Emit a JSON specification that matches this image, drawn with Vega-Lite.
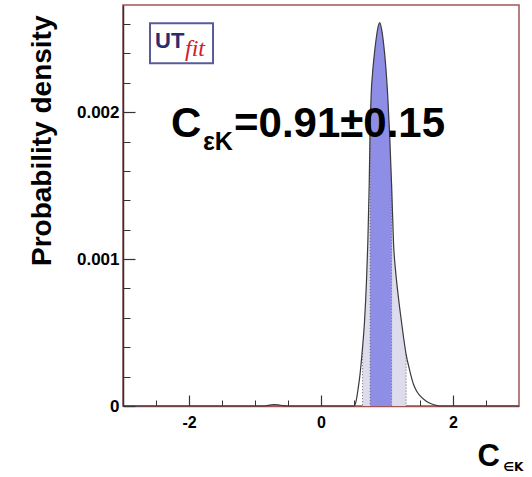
{
  "$schema": "https://vega.github.io/schema/vega-lite/v6.json",
  "width": 396,
  "height": 401,
  "autosize": {"type": "none"},
  "padding": {"left": 123, "top": 5, "right": 13, "bottom": 71},
  "background": "white",
  "config": {"view": {"stroke": "#a05555", "strokeWidth": 1.5}, "font": "Liberation Sans"},
  "datasets": {
    "pdf": [
      {"x": -3.0, "y": 0}, {"x": -0.85, "y": 0}, {"x": -0.8, "y": 0.000004}, {"x": -0.72, "y": 0.000009},
      {"x": -0.65, "y": 0.000008}, {"x": -0.58, "y": 0.000003}, {"x": -0.52, "y": 0}, {"x": 0.5, "y": 0},
      {"x": 0.53, "y": 0.00003}, {"x": 0.56, "y": 0.00011}, {"x": 0.59, "y": 0.00021}, {"x": 0.61, "y": 0.0003},
      {"x": 0.63, "y": 0.0004}, {"x": 0.66, "y": 0.00058}, {"x": 0.69, "y": 0.00086}, {"x": 0.71, "y": 0.00112},
      {"x": 0.73, "y": 0.0015}, {"x": 0.745, "y": 0.0019}, {"x": 0.76, "y": 0.00212}, {"x": 0.78, "y": 0.00226},
      {"x": 0.8, "y": 0.00236}, {"x": 0.83, "y": 0.00248}, {"x": 0.86, "y": 0.00257}, {"x": 0.89, "y": 0.00261},
      {"x": 0.92, "y": 0.00256}, {"x": 0.95, "y": 0.00246}, {"x": 0.98, "y": 0.00232}, {"x": 1.01, "y": 0.00212},
      {"x": 1.04, "y": 0.00185}, {"x": 1.07, "y": 0.0015}, {"x": 1.1, "y": 0.0011}, {"x": 1.13, "y": 0.00092},
      {"x": 1.16, "y": 0.00079}, {"x": 1.2, "y": 0.00064}, {"x": 1.25, "y": 0.00047}, {"x": 1.29, "y": 0.00035},
      {"x": 1.34, "y": 0.00025}, {"x": 1.4, "y": 0.00015}, {"x": 1.45, "y": 0.0001}, {"x": 1.5, "y": 0.00007},
      {"x": 1.6, "y": 0.00003}, {"x": 1.7, "y": 0.00001}, {"x": 1.8, "y": 0}, {"x": 3.0, "y": 0}
    ],
    "edges": [{"x": 0.63, "y": 0.0004}, {"x": 0.745, "y": 0.0019}, {"x": 1.07, "y": 0.0015}, {"x": 1.29, "y": 0.00035}],
    "cmain": [{"x": -2.273, "y": 0.00183, "t": "C"}],
    "csub": [{"x": -1.788, "y": 0.001741, "t": "εK"}],
    "cval": [{"x": -1.318, "y": 0.00183, "t": "=0.91±0.15"}],
    "logo": [{"x": -2.591, "x2": -1.636, "y": 0.002605, "y2": 0.002333}],
    "ut": [{"x": -2.515, "y": 0.002435, "t": "UT"}],
    "fit": [{"x": -2.061, "y": 0.002381, "t": "fit"}],
    "xsub": [{"x": 2.76, "y": -0.000442, "t": "∈K"}]
  },
  "layer": [
    {
      "data": {"name": "pdf"},
      "transform": [{"filter": "datum.x >= 0.63 && datum.x <= 1.29"}],
      "mark": {"type": "area", "interpolate": "monotone", "color": "#dcdcec"},
      "encoding": {
        "x": {"field": "x", "type": "quantitative", "scale": {"domain": [-3, 3], "nice": false, "zero": false},
          "axis": {"orient": "bottom", "values": [-2.5, -1.5, -1, -0.5, 0.5, 1, 1.5, 2.5], "tickSize": -6, "tickColor": "#333", "labels": false, "domain": false, "title": null, "grid": false}},
        "y": {"field": "y", "type": "quantitative", "scale": {"domain": [0, 0.00273], "nice": false},
          "axis": {"orient": "left", "values": [0.0002, 0.0004, 0.0006, 0.0008, 0.0012, 0.0014, 0.0016, 0.0018, 0.0022, 0.0024, 0.0026], "tickSize": -7, "tickColor": "#333", "labels": false, "domain": false, "title": null, "grid": false}}
      }
    },
    {
      "data": {"name": "pdf"},
      "transform": [{"filter": "datum.x >= 0.745 && datum.x <= 1.07"}],
      "mark": {"type": "area", "interpolate": "monotone", "color": "#8e8ee6"},
      "encoding": {
        "x": {"field": "x", "type": "quantitative", "axis": null},
        "y": {"field": "y", "type": "quantitative", "axis": null}
      }
    },
    {
      "data": {"name": "edges"},
      "mark": {"type": "rule", "color": "#666", "strokeDash": [1, 2], "strokeWidth": 1},
      "encoding": {
        "x": {"field": "x", "type": "quantitative", "axis": null},
        "y": {"field": "y", "type": "quantitative", "axis": null},
        "y2": {"datum": 0}
      }
    },
    {
      "data": {"name": "pdf"},
      "mark": {"type": "line", "interpolate": "monotone", "color": "#3a3a3a", "strokeWidth": 1.2},
      "encoding": {
        "x": {"field": "x", "type": "quantitative",
          "axis": {"orient": "bottom", "values": [-2, 0, 2], "tickSize": -11, "tickColor": "#333", "tickWidth": 1.2, "domainColor": "#a05555", "domainWidth": 1.5, "labelFont": "Liberation Sans", "labelFontSize": 16, "labelFontWeight": "bold", "labelColor": "black", "labelPadding": 19, "labelExpr": "'' + datum.value", "labelFlush": false, "labelOverlap": false, "grid": false,
            "title": "C", "titleFont": "Liberation Sans", "titleFontSize": 31, "titleFontWeight": "bold", "titleColor": "black", "titleX": 354, "titleY": 59, "titleAlign": "left", "titleBaseline": "alphabetic", "titleAnchor": "start"}},
        "y": {"field": "y", "type": "quantitative",
          "axis": {"orient": "left", "values": [0, 0.001, 0.002], "tickSize": -12, "tickColor": "#333", "tickWidth": 1.2, "domainColor": "#333", "domainWidth": 1.5, "labelFont": "Liberation Sans", "labelFontSize": 17, "labelFontWeight": "bold", "labelColor": "black", "labelPadding": 16, "labelExpr": "'' + datum.value", "labelFlush": false, "labelOverlap": false, "grid": false,
            "title": "Probability density", "titleFont": "Liberation Sans", "titleFontSize": 28, "titleFontWeight": "bold", "titleColor": "black", "titleX": -73, "titleY": 10, "titleAlign": "right", "titleAngle": -90, "titleBaseline": "alphabetic", "titleAnchor": "end"}}
      }
    },
    {
      "data": {"name": "logo"},
      "mark": {"type": "rect", "fill": "white", "stroke": "#5b5b9b", "strokeWidth": 2},
      "encoding": {
        "x": {"field": "x", "type": "quantitative", "axis": null},
        "x2": {"field": "x2"},
        "y": {"field": "y", "type": "quantitative", "axis": null},
        "y2": {"field": "y2"}
      }
    },
    {
      "data": {"name": "ut"},
      "mark": {"type": "text", "font": "Liberation Sans", "fontSize": 22, "fontWeight": "bold", "color": "#2b2b70", "align": "left", "baseline": "alphabetic"},
      "encoding": {"x": {"field": "x", "type": "quantitative", "axis": null}, "y": {"field": "y", "type": "quantitative", "axis": null}, "text": {"field": "t"}}
    },
    {
      "data": {"name": "fit"},
      "mark": {"type": "text", "font": "Liberation Serif", "fontSize": 24, "fontStyle": "italic", "color": "#d02030", "align": "left", "baseline": "alphabetic"},
      "encoding": {"x": {"field": "x", "type": "quantitative", "axis": null}, "y": {"field": "y", "type": "quantitative", "axis": null}, "text": {"field": "t"}}
    },
    {
      "data": {"name": "cmain"},
      "mark": {"type": "text", "font": "Liberation Sans", "fontSize": 42, "fontWeight": "bold", "color": "black", "align": "left", "baseline": "alphabetic"},
      "encoding": {"x": {"field": "x", "type": "quantitative", "axis": null}, "y": {"field": "y", "type": "quantitative", "axis": null}, "text": {"field": "t"}}
    },
    {
      "data": {"name": "csub"},
      "mark": {"type": "text", "font": "Liberation Sans", "fontSize": 25, "fontWeight": "bold", "color": "black", "align": "left", "baseline": "alphabetic"},
      "encoding": {"x": {"field": "x", "type": "quantitative", "axis": null}, "y": {"field": "y", "type": "quantitative", "axis": null}, "text": {"field": "t"}}
    },
    {
      "data": {"name": "cval"},
      "mark": {"type": "text", "font": "Liberation Sans", "fontSize": 42, "fontWeight": "bold", "color": "black", "align": "left", "baseline": "alphabetic"},
      "encoding": {"x": {"field": "x", "type": "quantitative", "axis": null}, "y": {"field": "y", "type": "quantitative", "axis": null}, "text": {"field": "t"}}
    },
    {
      "data": {"name": "xsub"},
      "mark": {"type": "text", "font": "DejaVu Sans", "fontSize": 12, "fontWeight": "bold", "color": "black", "align": "left", "baseline": "alphabetic"},
      "encoding": {"x": {"field": "x", "type": "quantitative", "axis": null}, "y": {"field": "y", "type": "quantitative", "axis": null}, "text": {"field": "t"}}
    }
  ],
  "resolve": {"axis": {"x": "independent", "y": "independent"}}
}
